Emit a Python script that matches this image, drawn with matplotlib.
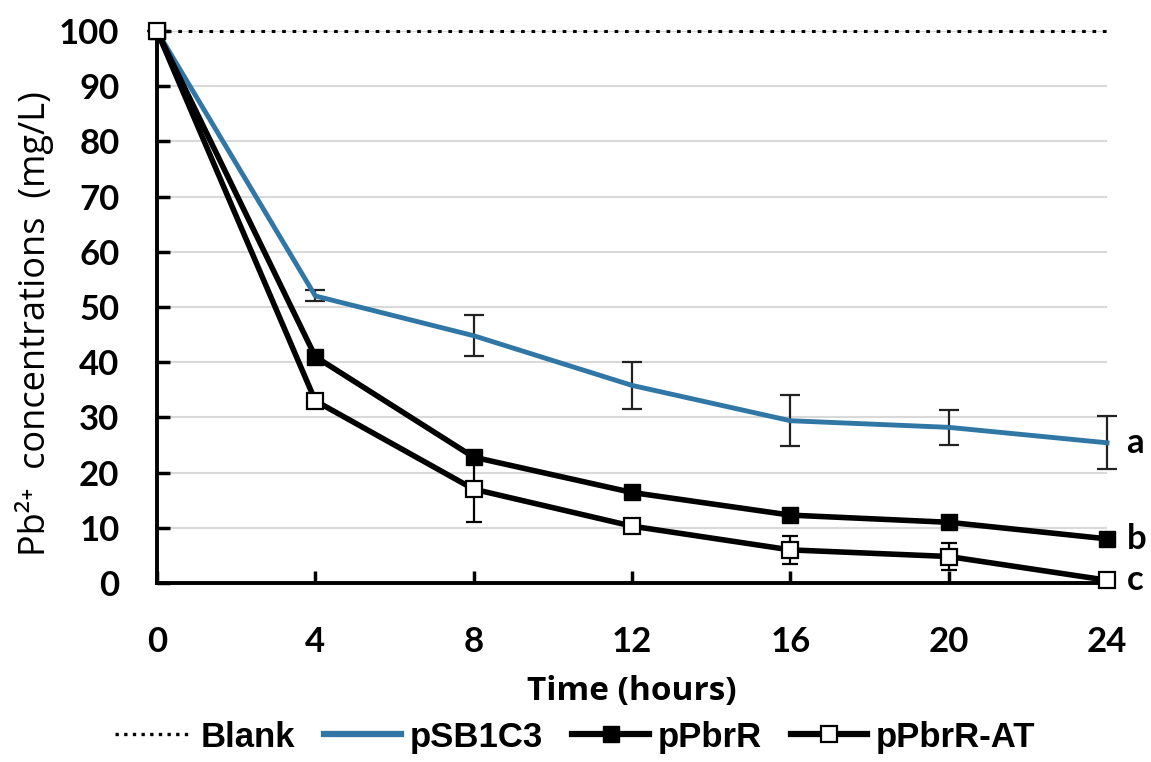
import numpy as np
import matplotlib.pyplot as plt
from matplotlib.lines import Line2D

# Data
hours = [0, 4, 8, 12, 16, 20, 24]
blank = [100, 100, 100, 100, 100, 100, 100]
psb1c3 = [100, 52, 44.8, 35.8, 29.4, 28.2, 25.4]
psb1c3_err = [0, 1.0, 3.7, 4.3, 4.6, 3.2, 4.8]
ppbrr = [100, 41, 22.8, 16.4, 12.3, 11, 8]
ppbrr_err = [0, 0.8, 1.0, 0.8, 0.8, 0.6, 0.6]
ppbrr_at = [100, 33, 17, 10.3, 6, 4.8, 0.5]
ppbrr_at_err = [0, 0.8, 6.0, 0.8, 2.6, 2.5, 0.5]
group_labels = ['a', 'b', 'c']

plt.rcParams['font.family'] = ['Lato', 'DejaVu Sans']
label_font = ['Open Sans', 'DejaVu Sans']

fig = plt.figure(figsize=(11.51, 7.62), dpi=100)
ax = fig.add_axes([0.1364, 0.2349, 0.8254, 0.7244])

blue = '#3077a6'

ax.yaxis.grid(True, color='#d9d9d9', linewidth=1.5)
ax.set_axisbelow(True)

ax.plot(hours, blank, color='black', linestyle=(0, (1.2, 2.2)), linewidth=2.2,
        clip_on=False, zorder=2)

ax.errorbar(hours, psb1c3, yerr=psb1c3_err, color=blue, linewidth=3.5,
            ecolor='#222222', elinewidth=1.6, capsize=7, capthick=1.6,
            clip_on=False, zorder=3)
ax.errorbar(hours, ppbrr, yerr=ppbrr_err, color='black', linewidth=4,
            marker='s', markersize=12, markerfacecolor='black',
            ecolor='black', elinewidth=1.6, capsize=6, capthick=1.6,
            clip_on=False, zorder=4)
ax.errorbar(hours, ppbrr_at, yerr=ppbrr_at_err, color='black', linewidth=4,
            marker='s', markersize=12, markerfacecolor='white',
            markeredgewidth=1.6, ecolor='black', elinewidth=1.6, capsize=6,
            capthick=1.6, clip_on=False, zorder=5)

# group letters at the right end
for lab, yv in zip(group_labels, [psb1c3[-1], ppbrr[-1], ppbrr_at[-1]]):
    ax.annotate(lab, xy=(hours[-1], yv), xytext=(14, 0), textcoords='offset points',
                va='center', ha='left', fontsize=25, fontweight='bold')

ax.set_xlim(0, 24)
ax.set_ylim(0, 100)
ax.set_xticks(hours)
ax.set_yticks(np.arange(0, 101, 10))
ax.tick_params(axis='both', direction='in', length=9, width=2.5, labelsize=25)
ax.tick_params(axis='y', pad=27)
ax.tick_params(axis='x', pad=31)
for t in ax.get_xticklabels() + ax.get_yticklabels():
    t.set_fontweight('bold')

for s in ['top', 'right']:
    ax.spines[s].set_visible(False)
for s in ['left', 'bottom']:
    ax.spines[s].set_linewidth(2.8)

ax.set_xlabel('Time (hours)', fontsize=24, fontweight='bold', labelpad=12,
              family=label_font)
ax.set_ylabel('Pb²⁺  concentrations  (mg/L)', fontsize=26, family=label_font)
ax.yaxis.set_label_coords(-0.108, 0.47)

handles = [
    Line2D([], [], color='black', linestyle=(0, (1.0, 1.6)), linewidth=2.4),
    Line2D([], [], color=blue, linewidth=4.5),
    Line2D([], [], color='black', linewidth=4.5, marker='s', markersize=12,
           markerfacecolor='black'),
    Line2D([], [], color='black', linewidth=4.5, marker='s', markersize=12,
           markerfacecolor='white', markeredgewidth=1.6),
]
fig.legend(handles, ['Blank', 'pSB1C3', 'pPbrR', 'pPbrR-AT'],
           loc='lower center', bbox_to_anchor=(0.5, -0.03), ncol=4,
           frameon=False, handlelength=2.2, handletextpad=0.25,
           columnspacing=0.85,
           prop={'family': ['Liberation Sans', 'DejaVu Sans'],
                 'weight': 'bold', 'size': 25})

fig.savefig('out.png', dpi=100)
